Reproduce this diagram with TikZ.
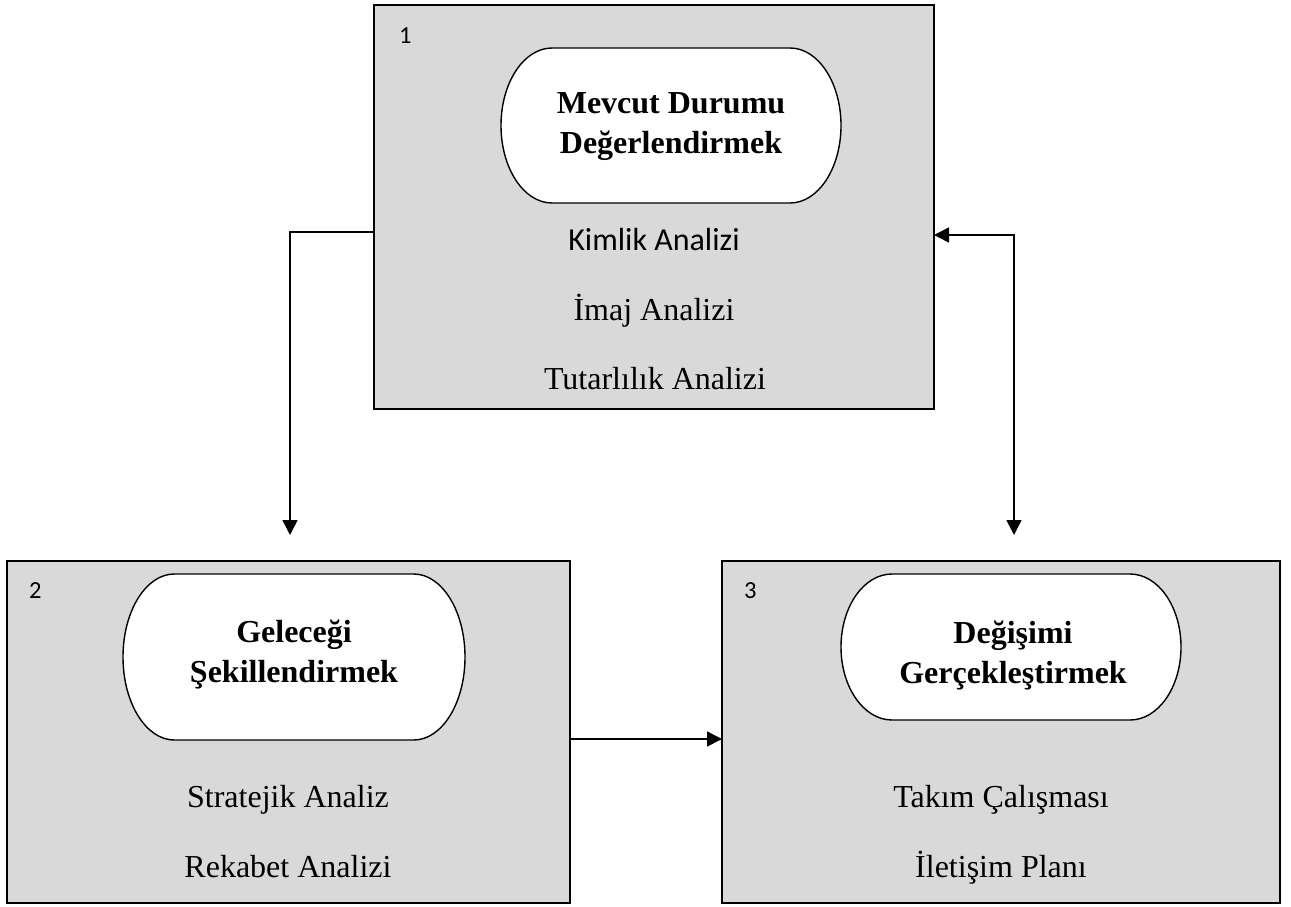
\documentclass[tikz,border=0pt]{standalone}
\usepackage{fontspec}
\setmainfont{Liberation Serif}
\newfontfamily\calfont{Carlito}
\usetikzlibrary{arrows.meta}

% Flowchart terminator: flat top and bottom, elliptical ends (x, y, width, height)
\newcommand\terminator[4]{%
  \pgfmathsetmacro\trx{0.15*#3}%
  \pgfmathsetmacro\try{#4/2}%
  \draw[termline] (#1+\trx,#2) -- (#1+#3-\trx,#2)
    arc[start angle=90,end angle=-90,x radius=\trx pt,y radius=\try pt]
    -- (#1+\trx,#2+#4)
    arc[start angle=270,end angle=90,x radius=\trx pt,y radius=\try pt] -- cycle;}

\begin{document}
\begin{tikzpicture}[x=1pt,y=-1pt,
  stage/.style={draw=black,line width=1.6pt,fill=boxgray,anchor=north west,
    inner sep=0pt,outer sep=0pt},
  termline/.style={draw=black,line width=1.4pt,fill=white},
  title/.style={font=\fontsize{32}{40}\selectfont\bfseries,align=center,inner sep=0pt},
  item/.style={font=\fontsize{32}{38}\selectfont,anchor=base,inner sep=0pt},
  citem/.style={font=\calfont\fontsize{32}{38}\selectfont,anchor=base,inner sep=0pt},
  num/.style={font=\calfont\fontsize{24.5}{28}\selectfont,anchor=base west,inner sep=0pt},
  conn/.style={draw=black,line width=1.6pt},
  tip/.tip={Triangle[length=15pt,width=15pt]}]
\definecolor{boxgray}{HTML}{D9D9D9}

\useasboundingbox[fill=white] (0,0) rectangle (1291,906);

% the three stages
\node[stage,minimum width=560pt,minimum height=404pt] (b1) at (374,5) {};
\node[stage,minimum width=563pt,minimum height=342pt] (b2) at (7,561) {};
\node[stage,minimum width=558pt,minimum height=342pt] (b3) at (722,561) {};

\terminator{501}{48}{340}{155}
\terminator{123}{574}{342}{166}
\terminator{841}{574}{340}{146}

% stage numbers
\node[num] (n1) at (399,43) {1};
\node[num] (n2) at (29,598) {2};
\node[num] (n3) at (744,598) {3};

% stage titles
\node[title] (t1) at (671,127) {Mevcut Durumu\\Değerlendirmek};
\node[title] (t2) at (294,655) {Geleceği\\Şekillendirmek};
\node[title] (t3) at (1013,656) {Değişimi\\Gerçekleştirmek};

% stage contents
\node[citem] (k1) at (654,250) {Kimlik Analizi};
\node[item] (k2) at (654,320) {İmaj Analizi};
\node[item] (k3) at (655,389) {Tutarlılık Analizi};
\node[item] (s1) at (288,807) {Stratejik Analiz};
\node[item] (s2) at (288,877) {Rekabet Analizi};
\node[item] (d1) at (1001,807) {Takım Çalışması};
\node[item] (d2) at (1001,877) {İletişim Planı};

% connectors
\coordinate (c1) at (290,232);
\coordinate (e1) at (290,535);
\draw[conn,-tip] (c1 -| b1.west) -- (c1) -- (e1);
\coordinate (c2) at (1014,235);
\coordinate (e2) at (1014,535);
\draw[conn,tip-tip] (c2 -| b1.east) -- (c2) -- (e2);
\coordinate (c3) at (0,739);
\draw[conn,-tip] (c3 -| b2.east) -- (c3 -| b3.west);
\end{tikzpicture}
\end{document}
